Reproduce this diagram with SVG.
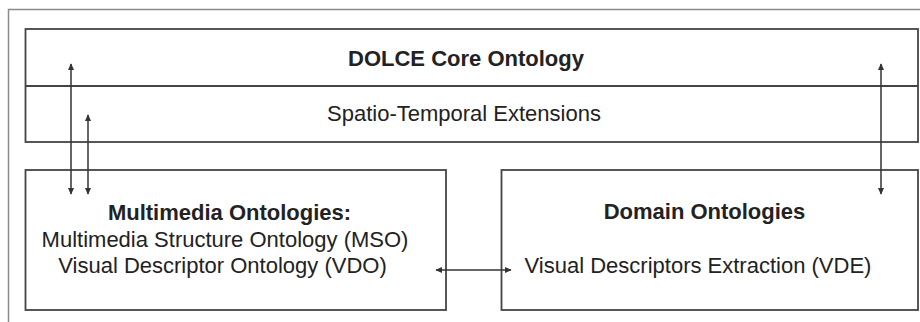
<svg xmlns="http://www.w3.org/2000/svg" width="920" height="322" viewBox="0 0 920 322">
<defs>
<style>
.frame{fill:none;stroke:#8a8a8a;stroke-width:1.5}
.box{fill:none;stroke:#444;stroke-width:1.8}
.t{font-family:"Liberation Sans",Arial,Helvetica,sans-serif;font-size:22px;fill:#222;text-anchor:middle}
.b{font-weight:bold}
.c{fill:none;stroke:#333;stroke-width:1.5;marker-start:url(#ah);marker-end:url(#ah)}
</style>
<marker id="ah" viewBox="0 0 10 10" refX="9" refY="5" markerWidth="7" markerHeight="8" orient="auto-start-reverse" markerUnits="userSpaceOnUse">
<path d="M0,0.5 L10,5 L0,9.5 Z" fill="#333"/>
</marker>
</defs>
<rect width="920" height="322" fill="#fff"/>
<path class="frame" d="M8.5,322 V9.5 H920"/>
<g id="dolce">
<rect class="box" x="25.5" y="29" width="892.5" height="113"/>
<line class="box" x1="25.5" y1="86" x2="918" y2="86"/>
<text class="t b" x="466" y="66">DOLCE Core Ontology</text>
<text class="t" x="464" y="121">Spatio-Temporal Extensions</text>
</g>
<g id="multimedia">
<rect class="box" x="25.5" y="170" width="420.5" height="140"/>
<text class="t b" x="229.5" y="220">Multimedia Ontologies:</text>
<text class="t" x="225" y="247">Multimedia Structure Ontology (MSO)</text>
<text class="t" x="222.5" y="273">Visual Descriptor Ontology (VDO)</text>
</g>
<g id="domain">
<rect class="box" x="501.5" y="170" width="416.5" height="140"/>
<text class="t b" x="704.5" y="219">Domain Ontologies</text>
<text class="t" x="698" y="273">Visual Descriptors Extraction (VDE)</text>
</g>
<g id="connectors">
<line class="c" x1="71" y1="64" x2="71" y2="194"/>
<line class="c" x1="88" y1="115" x2="88" y2="194"/>
<line class="c" x1="881" y1="64" x2="881" y2="194"/>
<line class="c" x1="436" y1="270" x2="511" y2="270"/>
</g>
</svg>
